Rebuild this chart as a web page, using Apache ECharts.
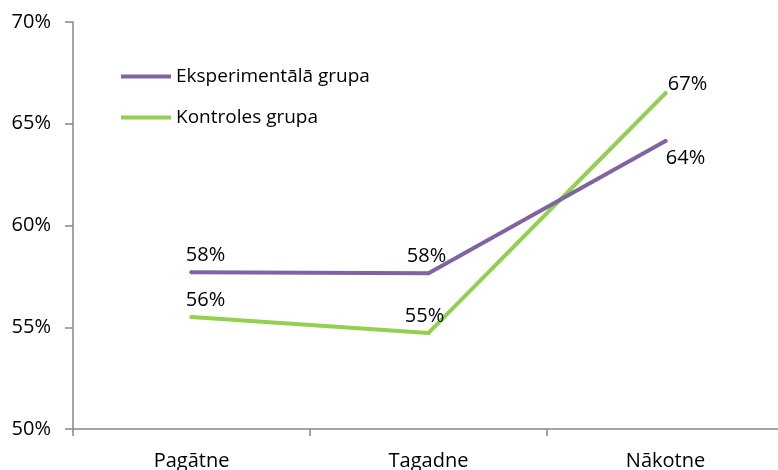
<!DOCTYPE html>
<html>
<head>
<meta charset="utf-8">
<script src="https://cdn.jsdelivr.net/npm/echarts@6/dist/echarts.min.js"></script>
<style>
  html, body { margin: 0; padding: 0; background: #ffffff; }
  #chart { width: 778px; height: 470px; }
</style>
</head>
<body>
<div id="chart"></div>
<script>
// Categories (time perspective) and group shares, in percent
const categories = ['Pagātne', 'Tagadne', 'Nākotne'];
const seriesNames = ['Eksperimentālā grupa', 'Kontroles grupa'];
const experimentalValues = [57.7, 57.65, 64.15];
const controlValues = [55.5, 54.72, 66.5];
const yTicks = [50, 55, 60, 65, 70];

const FONT = '"Open Sans", "DejaVu Sans", sans-serif';
const textColor = '#000000';
const axisColor = '#868686';
const expColor = '#8064A2';
const ctrlColor = '#92D050';

// label placement per point: [position, offsetX, offsetY]
const expLabelPlace = [['top', 14, 0], ['top', -2, 0], ['bottom', 20, 0]];
const ctrlLabelPlace = [['top', 14, 0], ['top', -4, 0], ['top', 22, 8]];

function buildData(values, places) {
  return values.map((v, i) => ({
    value: v,
    label: { position: places[i][0], offset: [places[i][1], places[i][2]] }
  }));
}

const labelBase = {
  show: true,
  fontFamily: FONT,
  fontSize: 20,
  color: textColor,
  distance: 5,
  formatter: p => Math.round(p.value) + '%'
};

const chart = echarts.init(document.getElementById('chart'), null, { renderer: 'canvas' });

chart.setOption({
  animation: false,
  backgroundColor: '#ffffff',
  // the category band runs a little past the right edge of the canvas
  grid: { left: 73, top: 22, width: 711, height: 407, containLabel: false, outerBoundsMode: 'none' },
  legend: {
    orient: 'vertical',
    left: 116,
    top: 62,
    itemWidth: 50,
    itemHeight: 14,
    itemGap: 22,
    icon: 'path://M0,0 L50,0 L50,4 L0,4 Z',
    textStyle: { fontFamily: FONT, fontSize: 19, color: textColor },
    data: seriesNames.map((n, i) => ({
      name: n,
      itemStyle: { color: i === 0 ? expColor : ctrlColor }
    }))
  },
  xAxis: {
    type: 'category',
    data: categories,
    boundaryGap: true,
    axisLine: { show: true, lineStyle: { color: axisColor, width: 1.5 } },
    axisTick: { show: true, length: 7, lineStyle: { color: axisColor, width: 1.5 } },
    axisLabel: { fontFamily: FONT, fontSize: 20, color: textColor, margin: 22 },
    splitLine: { show: false }
  },
  yAxis: {
    type: 'value',
    min: yTicks[0],
    max: yTicks[yTicks.length - 1],
    interval: yTicks[1] - yTicks[0],
    axisLine: { show: true, lineStyle: { color: axisColor, width: 1.5 } },
    axisTick: { show: true, length: 8, lineStyle: { color: axisColor, width: 1.5 } },
    axisLabel: { fontFamily: FONT, fontSize: 20, color: textColor, margin: 22, formatter: v => v + '%' },
    splitLine: { show: false }
  },
  series: [
    {
      name: seriesNames[0],
      type: 'line',
      data: buildData(experimentalValues, expLabelPlace),
      symbol: 'circle',
      symbolSize: 4,
      showSymbol: true,
      smooth: false,
      lineStyle: { color: expColor, width: 4, cap: 'round', join: 'round' },
      itemStyle: { color: expColor },
      label: labelBase,
      z: 3
    },
    {
      name: seriesNames[1],
      type: 'line',
      data: buildData(controlValues, ctrlLabelPlace),
      symbol: 'circle',
      symbolSize: 4,
      showSymbol: true,
      smooth: false,
      lineStyle: { color: ctrlColor, width: 4, cap: 'round', join: 'round' },
      itemStyle: { color: ctrlColor },
      label: labelBase,
      z: 2
    }
  ]
});
</script>
</body>
</html>
